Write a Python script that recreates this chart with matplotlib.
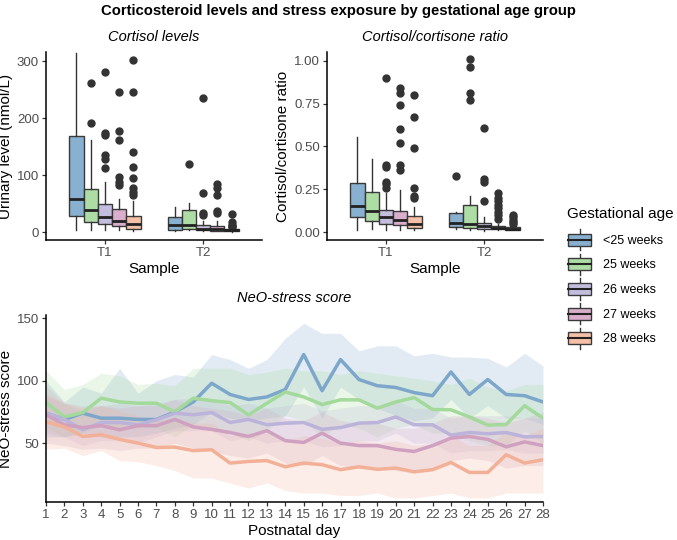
import numpy as np
import matplotlib.pyplot as plt
from matplotlib.patches import Rectangle
from matplotlib.lines import Line2D
from matplotlib.legend_handler import HandlerBase

plt.rcParams['font.family'] = ['Liberation Sans', 'DejaVu Sans']

# ---- data ----
groups = ['<25 weeks', '25 weeks', '26 weeks', '27 weeks', '28 weeks']
samples = ['T1', 'T2']

# cortisol levels (nmol/L), [T1 list, T2 list], one value per group
cort_q1 = [[29, 17.5, 14.5, 10, 6], [3, 5, 3, 2.5, 1]]
cort_med = [[58, 38, 26, 19, 14.5], [13, 13, 6, 6, 3]]
cort_q3 = [[168, 76, 50, 40, 28], [27, 38, 12, 10, 5]]
cort_lo = [[3, 3, 3, 3, 2], [1, 3, 1, 1, 0.5]]
cort_hi = [[315, 161, 87, 58, 54], [44, 51, 20, 20, 7]]
cort_fliers = [
    [[], [262, 192], [281, 174, 170, 135, 128, 112],
     [246, 178, 162, 97, 88, 82], [302, 246, 140, 115, 95, 78, 70, 65]],
    [[], [120], [235, 68, 33, 30], [85, 78, 65, 37, 33], [32, 17, 13, 10, 8]],
]

# cortisol/cortisone ratio
ratio_q1 = [[0.088, 0.068, 0.051, 0.043, 0.025], [0.029, 0.025, 0.018, 0.018, 0.016]]
ratio_med = [[0.152, 0.121, 0.088, 0.072, 0.049], [0.053, 0.049, 0.035, 0.025, 0.021]]
ratio_q3 = [[0.288, 0.234, 0.13, 0.121, 0.092], [0.115, 0.16, 0.053, 0.037, 0.033]]
ratio_lo = [[0.014, 0.02, 0.014, 0.014, 0.014], [0.018, 0.014, 0.01, 0.014, 0.012]]
ratio_hi = [[0.556, 0.425, 0.23, 0.248, 0.146], [0.12, 0.209, 0.088, 0.049, 0.039]]
ratio_fliers = [
    [[], [], [0.90, 0.39, 0.38, 0.29, 0.28, 0.26],
     [0.84, 0.81, 0.74, 0.60, 0.52, 0.39, 0.36], [0.80, 0.67, 0.49, 0.26, 0.21, 0.20]],
    [[0.33], [1.01, 0.96, 0.81, 0.77], [0.61, 0.31, 0.29, 0.18],
     [0.23, 0.20, 0.18, 0.16, 0.14, 0.12, 0.10, 0.08], [0.10, 0.09, 0.07, 0.06, 0.05]],
]

# NeO-stress score per postnatal day
days = list(range(1, 29))
neo_mean = {
    '<25 weeks': [74, 69, 74, 70, 70, 69, 69, 75, 83, 98, 89, 85, 87, 93, 121, 92, 117, 101, 96, 94.6, 90.5, 88, 107, 89, 101, 89, 88, 83],
    '25 weeks': [82.5, 71, 74.5, 86, 83, 82, 82, 75, 86, 84, 82.5, 72.7, 82, 91, 87, 81, 84.7, 84.7, 78, 83, 86.5, 77, 76.7, 71, 64.4, 65, 80, 70],
    '26 weeks': [74, 69, 60.7, 66.5, 66.5, 64.7, 68.7, 74, 72.7, 74.5, 66.5, 69, 64.7, 66, 66.5, 61, 62.5, 66, 66.5, 71, 64.7, 64.7, 56.4, 58.5, 57.5, 58.5, 55, 55.3],
    '27 weeks': [72.7, 64.7, 62.5, 64, 60.7, 64, 64, 69, 63, 61, 58.5, 55.3, 60, 52, 50.5, 58, 50, 48, 48, 45, 43.3, 48, 54, 55.3, 53, 47, 51, 48],
    '28 weeks': [67, 63, 55.3, 56.7, 53, 50, 46.5, 46.8, 44, 44.7, 34, 35.3, 36, 31, 34, 32.7, 28.7, 31, 29, 30, 27, 28.7, 34.5, 26.5, 26.5, 40.7, 34, 36.7],
}
neo_upper = {
    '<25 weeks': [100, 83, 95, 90, 110, 90, 100, 105, 103, 121, 117, 110, 117, 134, 146, 138, 138, 124, 128, 128, 120, 122, 119, 119, 118, 111, 122, 112],
    '25 weeks': [108, 93, 97, 106, 104, 97, 98, 96, 110, 110, 110, 105, 107, 110, 108, 108, 105, 108, 106, 104, 102, 100, 97, 102, 95, 92, 97, 97],
    '26 weeks': [88, 82, 75, 80, 82, 80, 82, 85, 86, 86, 80, 82, 78, 80, 82, 76, 78, 80, 80, 84, 78, 78, 70, 72, 72, 72, 70, 70],
    '27 weeks': [96, 82, 80, 80, 78, 80, 80, 85, 80, 78, 76, 72, 78, 70, 68, 75, 68, 66, 66, 62, 62, 66, 72, 72, 70, 66, 70, 75],
    '28 weeks': [90, 82, 78, 80, 76, 72, 68, 70, 66, 66, 56, 58, 58, 52, 56, 54, 50, 52, 50, 52, 48, 50, 56, 48, 48, 60, 56, 62],
}
neo_lower = {
    '<25 weeks': [55, 55, 58, 55, 55, 55, 58, 62, 65, 75, 70, 68, 70, 72, 95, 70, 95, 85, 78, 72, 68, 70, 85, 70, 80, 70, 70, 65],
    '25 weeks': [62, 55, 58, 65, 62, 62, 62, 55, 65, 62, 58, 52, 60, 72, 68, 55, 65, 62, 55, 62, 65, 58, 58, 52, 48, 48, 60, 50],
    '26 weeks': [58, 55, 48, 52, 52, 50, 55, 60, 60, 60, 52, 55, 50, 52, 52, 47, 48, 52, 52, 58, 50, 50, 42, 44, 44, 45, 42, 42],
    '27 weeks': [50, 48, 45, 46, 44, 46, 46, 50, 46, 44, 40, 38, 42, 34, 32, 40, 32, 30, 30, 28, 26, 30, 36, 38, 36, 30, 32, 32],
    '28 weeks': [45, 46, 40, 44, 36, 35, 32, 28, 22, 22, 18, 14, 18, 12, 10, 10, 8, 8, 10, 6, 6, 8, 10, 6, 6, 10, 10, 10],
}

box_colors = ['#88B0D0', '#AEDCA5', '#C3BEDD', '#D8AECB', '#F5C0A8']
line_colors = ['#7DA7CA', '#A3D99A', '#BBB3D9', '#CFA0BF', '#F2B097']

W, H = 677, 540
TICK_GREY = '#4D4D4D'


def rect(l, t, r, b):
    return [l / W, 1 - b / H, (r - l) / W, (b - t) / H]


def style_axes(ax):
    for s in ['top', 'right']:
        ax.spines[s].set_visible(False)
    for s in ['left', 'bottom']:
        ax.spines[s].set_linewidth(1.1)
        ax.spines[s].set_color('black')
    ax.tick_params(colors='#333333', labelcolor=TICK_GREY, labelsize=9.5, length=3, width=0.9, pad=2)


def draw_boxes(ax, q1, med, q3, lo, hi, fliers):
    width = 0.145
    for i in range(len(samples)):
        for j in range(len(groups)):
            stats = [dict(q1=q1[i][j], med=med[i][j], q3=q3[i][j],
                          whislo=lo[i][j], whishi=hi[i][j], fliers=fliers[i][j])]
            pos = i + 1 + (j - 2) * width
            ax.bxp(stats, positions=[pos], widths=width, patch_artist=True,
                   showcaps=False, manage_ticks=False,
                   boxprops=dict(facecolor=box_colors[j], edgecolor='#3A3A3A', linewidth=1.0),
                   medianprops=dict(color='#222222', linewidth=2.0),
                   whiskerprops=dict(color='#333333', linewidth=1.0),
                   flierprops=dict(marker='o', markersize=5, markerfacecolor='#333333',
                                   markeredgecolor='#333333'))
    ax.set_xlim(0.4, 2.6)
    ax.set_xticks([1, 2])
    ax.set_xticklabels(samples)
    ax.set_xlabel('Sample', fontsize=11, labelpad=2)


fig = plt.figure(figsize=(W / 100, H / 100), dpi=100)

fig.text(0.5, 1 - 11 / H, 'Corticosteroid levels and stress exposure by gestational age group',
         ha='center', va='center', fontsize=10.7, fontweight='bold')

# top-left
ax1 = fig.add_axes(rect(46, 52, 262, 240))
draw_boxes(ax1, cort_q1, cort_med, cort_q3, cort_lo, cort_hi, cort_fliers)
ax1.set_ylim(-14, 316)
ax1.set_yticks([0, 100, 200, 300])
ax1.set_ylabel('Urinary level (nmol/L)', fontsize=11, labelpad=3)
ax1.set_title('Cortisol levels', fontsize=10.5, style='italic', pad=8)
style_axes(ax1)

# top-right
ax2 = fig.add_axes(rect(327, 52, 543, 240))
draw_boxes(ax2, ratio_q1, ratio_med, ratio_q3, ratio_lo, ratio_hi, ratio_fliers)
ax2.set_ylim(-0.045, 1.05)
ax2.set_yticks([0, 0.25, 0.5, 0.75, 1.0])
ax2.set_yticklabels(['0.00', '0.25', '0.50', '0.75', '1.00'])
ax2.set_ylabel('Cortisol/cortisone ratio', fontsize=11, labelpad=3)
ax2.set_title('Cortisol/cortisone ratio', fontsize=10.5, style='italic', pad=8)
style_axes(ax2)

# bottom
ax3 = fig.add_axes(rect(46, 315, 543, 502))
for j, g in enumerate(groups):
    ax3.fill_between(days, neo_lower[g], neo_upper[g], color=line_colors[j], alpha=0.22, lw=0)
for j, g in enumerate(groups):
    ax3.plot(days, neo_mean[g], color=line_colors[j], lw=2.5)
ax3.set_xlim(1, 28)
ax3.set_ylim(2.8, 152.7)
ax3.set_xticks(days)
ax3.set_yticks([50, 100, 150])
ax3.set_xlabel('Postnatal day', fontsize=11, labelpad=2)
ax3.set_ylabel('NeO-stress score', fontsize=11, labelpad=3)
ax3.set_title('NeO-stress score', fontsize=10.5, style='italic', pad=9)
style_axes(ax3)


class BoxHandler(HandlerBase):
    def create_artists(self, legend, orig, x0, y0, width, height, fontsize, trans):
        l = -x0 + width * 0.05
        b = -y0 + height * 0.1
        w = width * 0.9
        h = height * 0.8
        r = Rectangle((l, b), w, h, facecolor=orig.get_facecolor(),
                      edgecolor='#3A3A3A', lw=1.0, transform=trans)
        m = Line2D([l, l + w], [b + h / 2] * 2, color='#222222', lw=1.5, transform=trans)
        cx = l + w / 2
        w1 = Line2D([cx, cx], [b - height * 0.3, b], color='#333333', lw=1.0, transform=trans)
        w2 = Line2D([cx, cx], [b + h, b + h + height * 0.3], color='#333333', lw=1.0, transform=trans)
        return [w1, w2, r, m]


handles = [Rectangle((0, 0), 1, 1, facecolor=c) for c in box_colors]
leg = fig.legend(handles, groups, handler_map={Rectangle: BoxHandler()},
                 loc='upper left', bbox_to_anchor=(567 / W, 1 - 207 / H),
                 frameon=False, title='Gestational age', title_fontsize=11,
                 fontsize=9, handlelength=2.0, handleheight=1.5,
                 labelspacing=0.75, handletextpad=0.9, borderaxespad=0, borderpad=0)
leg._legend_box.align = 'left'
leg._legend_handle_box.set_offset = leg._legend_handle_box.set_offset
leg._legend_box.sep = 8

fig.savefig('out.png', dpi=100)
